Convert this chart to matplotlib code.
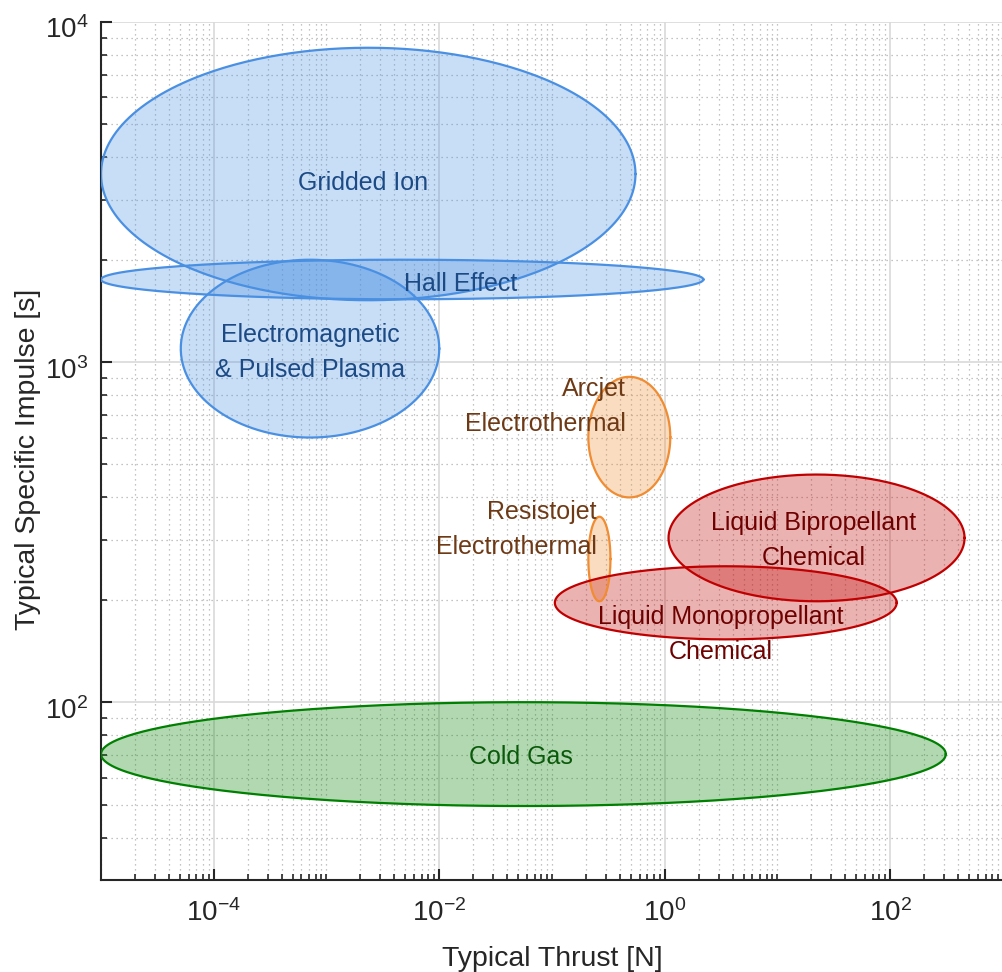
import numpy as np
import matplotlib
matplotlib.use("Agg")
import matplotlib.pyplot as plt
import matplotlib.transforms as mtransforms
from matplotlib.ticker import LogLocator, NullFormatter, FixedLocator

plt.rcParams['font.family'] = ['Liberation Sans', 'DejaVu Sans']
plt.rcParams['mathtext.fontset'] = 'custom'
plt.rcParams['mathtext.rm'] = 'Liberation Sans'
plt.rcParams['mathtext.it'] = 'Liberation Sans:italic'

# thruster classes: thrust range [N] and specific impulse range [s]
names = ["Gridded Ion", "Hall Effect", "Electromagnetic & Pulsed Plasma",
         "Arcjet Electrothermal", "Resistojet Electrothermal",
         "Liquid Bipropellant Chemical", "Liquid Monopropellant Chemical", "Cold Gas"]
thrust_min = [1e-5, 1e-5, 5.1e-5, 0.21, 0.21, 1.08, 0.106, 1e-5]
thrust_max = [0.55, 2.2, 1e-2, 1.12, 0.33, 456, 114, 311]
isp_min = [1520, 1530, 600, 400, 198, 198, 153, 49.5]
isp_max = [8400, 2000, 2000, 905, 351, 467, 251, 100]
groups = ["electric", "electric", "electric", "thermal", "thermal", "chem", "chem", "cold"]

edge = {"electric": "#4a90e2", "thermal": "#f08c32", "chem": "#c00000", "cold": "#008000"}
txt = {"electric": "#1b4a85", "thermal": "#6e3a16", "chem": "#6e0000", "cold": "#0b5a0b"}

fig = plt.figure(figsize=(10.03, 9.72), dpi=100)
ax = fig.add_axes([101/1003, 92/972, 902/1003, 858/972])
ax.set_xscale('log')
ax.set_yscale('log')

t = np.linspace(0, 2*np.pi, 400)
for i in range(len(names)):
    cx = (np.log10(thrust_min[i]) + np.log10(thrust_max[i])) / 2
    rx = (np.log10(thrust_max[i]) - np.log10(thrust_min[i])) / 2
    cy = (np.log10(isp_min[i]) + np.log10(isp_max[i])) / 2
    ry = (np.log10(isp_max[i]) - np.log10(isp_min[i])) / 2
    xs = 10 ** (cx + rx*np.cos(t))
    ys = 10 ** (cy + ry*np.sin(t))
    c = edge[groups[i]]
    ax.fill(xs, ys, color=c, alpha=0.3, lw=0, zorder=2)
    ax.plot(xs, ys, color=c, lw=1.6, zorder=3)

fs = 18
kw = dict(fontsize=fs, linespacing=1.55, zorder=4)
ax.text(2.13e-3, 3365, "Gridded Ion", color=txt["electric"], ha='center', va='center', **kw)
ax.text(1.55e-2, 1700, "Hall Effect", color=txt["electric"], ha='center', va='center', **kw)
ax.text(7.2e-4, 1067, "Electromagnetic\n& Pulsed Plasma", color=txt["electric"], ha='center', va='center', **kw)
ax.text(0.45, 740, "Arcjet\nElectrothermal", color=txt["thermal"], ha='right', va='center', multialignment='right', **kw)
ax.text(0.25, 322, "Resistojet\nElectrothermal", color=txt["thermal"], ha='right', va='center', multialignment='right', **kw)
ax.text(20.9, 299, "Liquid Bipropellant\nChemical", color=txt["chem"], ha='center', va='center', **kw)
ax.text(3.11, 158, "Liquid Monopropellant\nChemical", color=txt["chem"], ha='center', va='center', **kw)
ax.text(0.053, 68.9, "Cold Gas", color=txt["cold"], ha='center', va='center', **kw)

ax.set_xlim(1e-5, 1e3)
ax.set_ylim(30, 1e4)

xmaj = [1e-4, 1e-2, 1e0, 1e2]
ymaj = [1e2, 1e3, 1e4]
ax.xaxis.set_major_locator(FixedLocator(xmaj))
ax.yaxis.set_major_locator(FixedLocator(ymaj))
ax.set_xticklabels([r'$\mathregular{10^{-4}}$', r'$\mathregular{10^{-2}}$',
                    r'$\mathregular{10^{0}}$', r'$\mathregular{10^{2}}$'])
ax.set_yticklabels([r'$\mathregular{10^{2}}$', r'$\mathregular{10^{3}}$', r'$\mathregular{10^{4}}$'])
ax.xaxis.set_minor_locator(LogLocator(base=10, subs=np.arange(1, 10), numticks=50))
ax.yaxis.set_minor_locator(LogLocator(base=10, subs=np.arange(1, 10), numticks=50))
ax.xaxis.set_minor_formatter(NullFormatter())
ax.yaxis.set_minor_formatter(NullFormatter())

ax.grid(True, which='major', color='#d9d9d9', lw=1.2, ls='-', zorder=0)
ax.grid(True, which='minor', color='#b0b0b0', lw=0.9, ls=(0, (1, 3)), zorder=0)
ax.set_axisbelow(True)

for s in ['top', 'right']:
    ax.spines[s].set_visible(False)
for s in ['left', 'bottom']:
    ax.spines[s].set_color('#262626')
    ax.spines[s].set_linewidth(1.5)
ax.tick_params(which='major', direction='in', length=8, width=1.5, color='#262626',
               labelsize=20, labelcolor='#262626')
ax.tick_params(axis='x', which='major', pad=14)
ax.tick_params(axis='y', which='major', pad=9)
ax.tick_params(which='minor', direction='in', length=4, width=1.2, color='#262626')

# nudge y tick labels down a little
off = mtransforms.ScaledTranslation(0, -4/72, fig.dpi_scale_trans)
for lab in ax.get_yticklabels():
    lab.set_transform(lab.get_transform() + off)

ax.set_xlabel("Typical Thrust [N]", fontsize=20.5, color='#262626')
ax.set_ylabel("Typical Specific Impulse [s]", fontsize=20.5, color='#262626')
ax.xaxis.set_label_coords(0.5, -0.077)
ax.yaxis.set_label_coords(-0.066, 0.49)

fig.savefig("out.png", dpi=100)
